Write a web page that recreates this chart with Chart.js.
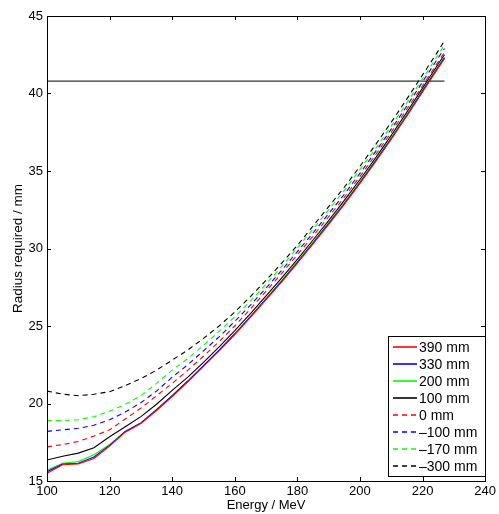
<!DOCTYPE html>
<html>
<head>
<meta charset="utf-8">
<script src="https://cdn.jsdelivr.net/npm/chart.js@4"></script>
<style>
  html, body { margin: 0; padding: 0; background: #fff; }
  canvas { display: block; }
</style>
</head>
<body>
<canvas id="radiusChart" width="499" height="514"></canvas>
<script>
// ── Data ───────────────────────────────────────────────
const energy = [100, 105, 110, 115, 120, 125, 130, 135, 140, 145, 150, 155, 160,
                165, 170, 175, 180, 185, 190, 195, 200, 205, 210, 215, 220, 225, 227];

const r390  = [15.5, 16.05, 16.1, 16.45, 17.25, 18.15, 18.7, 19.55, 20.45, 21.4, 22.4, 23.4, 24.45,
               25.55, 26.7, 27.85, 29.05, 30.3, 31.55, 32.85, 34.2, 35.6, 37.05, 38.55, 40.1, 41.65, 42.25];
const r330  = [15.6, 16.1, 16.15, 16.55, 17.3, 18.2, 18.75, 19.6, 20.5, 21.45, 22.45, 23.45, 24.5,
               25.6, 26.75, 27.9, 29.1, 30.35, 31.6, 32.9, 34.25, 35.65, 37.1, 38.6, 40.15, 41.7, 42.3];
const r200  = [15.7, 16.15, 16.25, 16.7, 17.35, 18.2, 18.75, 19.6, 20.5, 21.45, 22.45, 23.45, 24.5,
               25.6, 26.75, 27.95, 29.15, 30.4, 31.65, 32.95, 34.3, 35.7, 37.15, 38.65, 40.2, 41.75, 42.35];
const r100  = [16.35, 16.6, 16.8, 17.15, 17.85, 18.5, 19.15, 19.95, 20.85, 21.7, 22.65, 23.65, 24.7,
               25.8, 26.95, 28.1, 29.3, 30.55, 31.8, 33.1, 34.45, 35.85, 37.3, 38.8, 40.35, 41.9, 42.5];
const r0    = [17.2, 17.35, 17.55, 17.9, 18.3, 19.0, 19.7, 20.5, 21.3, 22.15, 23.05, 24.0, 25.0,
               26.1, 27.25, 28.4, 29.6, 30.8, 32.05, 33.3, 34.65, 36.05, 37.5, 39.0, 40.5, 42.05, 42.65];
const rM100 = [18.2, 18.3, 18.4, 18.6, 18.95, 19.45, 20.05, 20.8, 21.7, 22.5, 23.4, 24.3, 25.3,
               26.35, 27.45, 28.6, 29.8, 31.0, 32.25, 33.5, 34.85, 36.25, 37.7, 39.2, 40.75, 42.3, 42.9];
const rM170 = [18.9, 18.9, 18.95, 19.15, 19.5, 19.95, 20.5, 21.3, 22.15, 22.9, 23.75, 24.65, 25.6,
               26.6, 27.7, 28.85, 30.05, 31.25, 32.5, 33.75, 35.1, 36.45, 37.9, 39.4, 40.95, 42.5, 43.15];
const rM300 = [20.8, 20.6, 20.5, 20.6, 20.76, 21.15, 21.6, 22.15, 22.8, 23.45, 24.2, 25.0, 25.9,
               26.9, 27.95, 29.05, 30.2, 31.45, 32.7, 33.95, 35.3, 36.7, 38.15, 39.65, 41.2, 42.75, 43.4];

const seriesLabels = ["390 mm", "330 mm", "200 mm", "100 mm", "0 mm", "–100 mm", "–170 mm", "–300 mm"];
const seriesValues = [r390, r330, r200, r100, r0, rM100, rM170, rM300];

const limitEnergy = [100, 227];
const limitRadius = [40.8, 40.8];

const xTicks = [100, 120, 140, 160, 180, 200, 220, 240];
const yTicks = [15, 20, 25, 30, 35, 40, 45];

// ── Styles ─────────────────────────────────────────────
const lineColors = ["rgb(255,0,0)", "rgb(0,0,255)", "rgb(0,255,0)", "rgb(0,0,0)",
                    "rgb(255,0,0)", "rgb(0,0,255)", "rgb(0,255,0)", "rgb(0,0,0)"];
const dashed = [false, false, false, false, true, true, true, true];
const DASH = [5, 4];
const FONT = "'Liberation Sans', Arial, sans-serif";

const datasets = seriesLabels.map((label, i) => ({
    label: label,
    data: energy.map((e, j) => ({ x: e, y: seriesValues[i][j] })),
    borderColor: lineColors[i],
    borderWidth: 1.1,
    borderDash: dashed[i] ? DASH : [],
    pointRadius: 0,
    tension: 0,
    fill: false
}));

datasets.push({
    label: "limit",
    data: limitEnergy.map((e, j) => ({ x: e, y: limitRadius[j] })),
    borderColor: "#000000",
    borderWidth: 1,
    pointRadius: 0,
    fill: false
});

// ── Frame, inward ticks and legend ─────────────────────
const matlabFrame = {
    id: "matlabFrame",
    afterDraw(chart) {
        const { ctx, chartArea: a, scales } = chart;
        const len = 4;
        ctx.save();
        ctx.strokeStyle = "#000";
        ctx.lineWidth = 1;
        ctx.setLineDash([]);
        ctx.beginPath();
        xTicks.forEach(v => {
            const px = Math.round(scales.x.getPixelForValue(v)) + 0.5;
            ctx.moveTo(px, a.bottom); ctx.lineTo(px, a.bottom - len);
            ctx.moveTo(px, a.top);    ctx.lineTo(px, a.top + len);
        });
        yTicks.forEach(v => {
            const py = Math.round(scales.y.getPixelForValue(v)) + 0.5;
            ctx.moveTo(a.left, py);  ctx.lineTo(a.left + len, py);
            ctx.moveTo(a.right, py); ctx.lineTo(a.right - len, py);
        });
        ctx.stroke();
        ctx.strokeRect(Math.round(a.left) + 0.5, Math.round(a.top) + 0.5,
                       Math.round(a.right - a.left), Math.round(a.bottom - a.top));

        // legend box
        const bx = 388.5, by = 336.5, bw = 97, bh = 140;
        ctx.fillStyle = "#fff";
        ctx.fillRect(bx, by, bw, bh);
        ctx.strokeStyle = "#000";
        ctx.strokeRect(bx, by, bw, bh);
        ctx.font = "14px " + FONT;
        ctx.textBaseline = "middle";
        ctx.textAlign = "left";
        for (let i = 0; i < seriesLabels.length; i++) {
            const y = 347 + i * 17;
            ctx.save();
            ctx.lineWidth = 1.6;
            ctx.strokeStyle = lineColors[i];
            ctx.setLineDash(dashed[i] ? DASH : []);
            ctx.beginPath();
            ctx.moveTo(393, y);
            ctx.lineTo(417, y);
            ctx.stroke();
            ctx.restore();
            ctx.fillStyle = "#000";
            ctx.fillText(seriesLabels[i], 419, y + 1);
        }
        ctx.restore();
    }
};

new Chart(document.getElementById("radiusChart"), {
    type: "line",
    data: { datasets: datasets },
    options: {
        responsive: false,
        animation: false,
        devicePixelRatio: 1,
        layout: { padding: { left: 0, top: 16, right: 13, bottom: 0 } },
        plugins: {
            legend: { display: false },
            tooltip: { enabled: false }
        },
        scales: {
            x: {
                type: "linear",
                min: 100, max: 240,
                afterFit: s => { s.height = 33; },
                afterBuildTicks: s => { s.ticks = xTicks.map(v => ({ value: v })); },
                grid: { display: false, drawTicks: false },
                border: { display: false },
                ticks: { color: "#000", font: { family: FONT, size: 13 }, padding: 3, maxRotation: 0 },
                title: { display: true, text: "Energy / MeV", color: "#000",
                         font: { family: FONT, size: 13 }, padding: { top: 0, bottom: 1 } }
            },
            y: {
                type: "linear",
                min: 15, max: 45,
                afterFit: s => { s.width = 47; },
                afterBuildTicks: s => { s.ticks = yTicks.map(v => ({ value: v })); },
                grid: { display: false, drawTicks: false },
                border: { display: false },
                ticks: { color: "#000", font: { family: FONT, size: 13 }, padding: 4 },
                title: { display: true, text: "Radius required / mm", color: "#000",
                         font: { family: FONT, size: 13.5 }, padding: { top: 10, bottom: 0 } }
            }
        }
    },
    plugins: [matlabFrame]
});
</script>
</body>
</html>
